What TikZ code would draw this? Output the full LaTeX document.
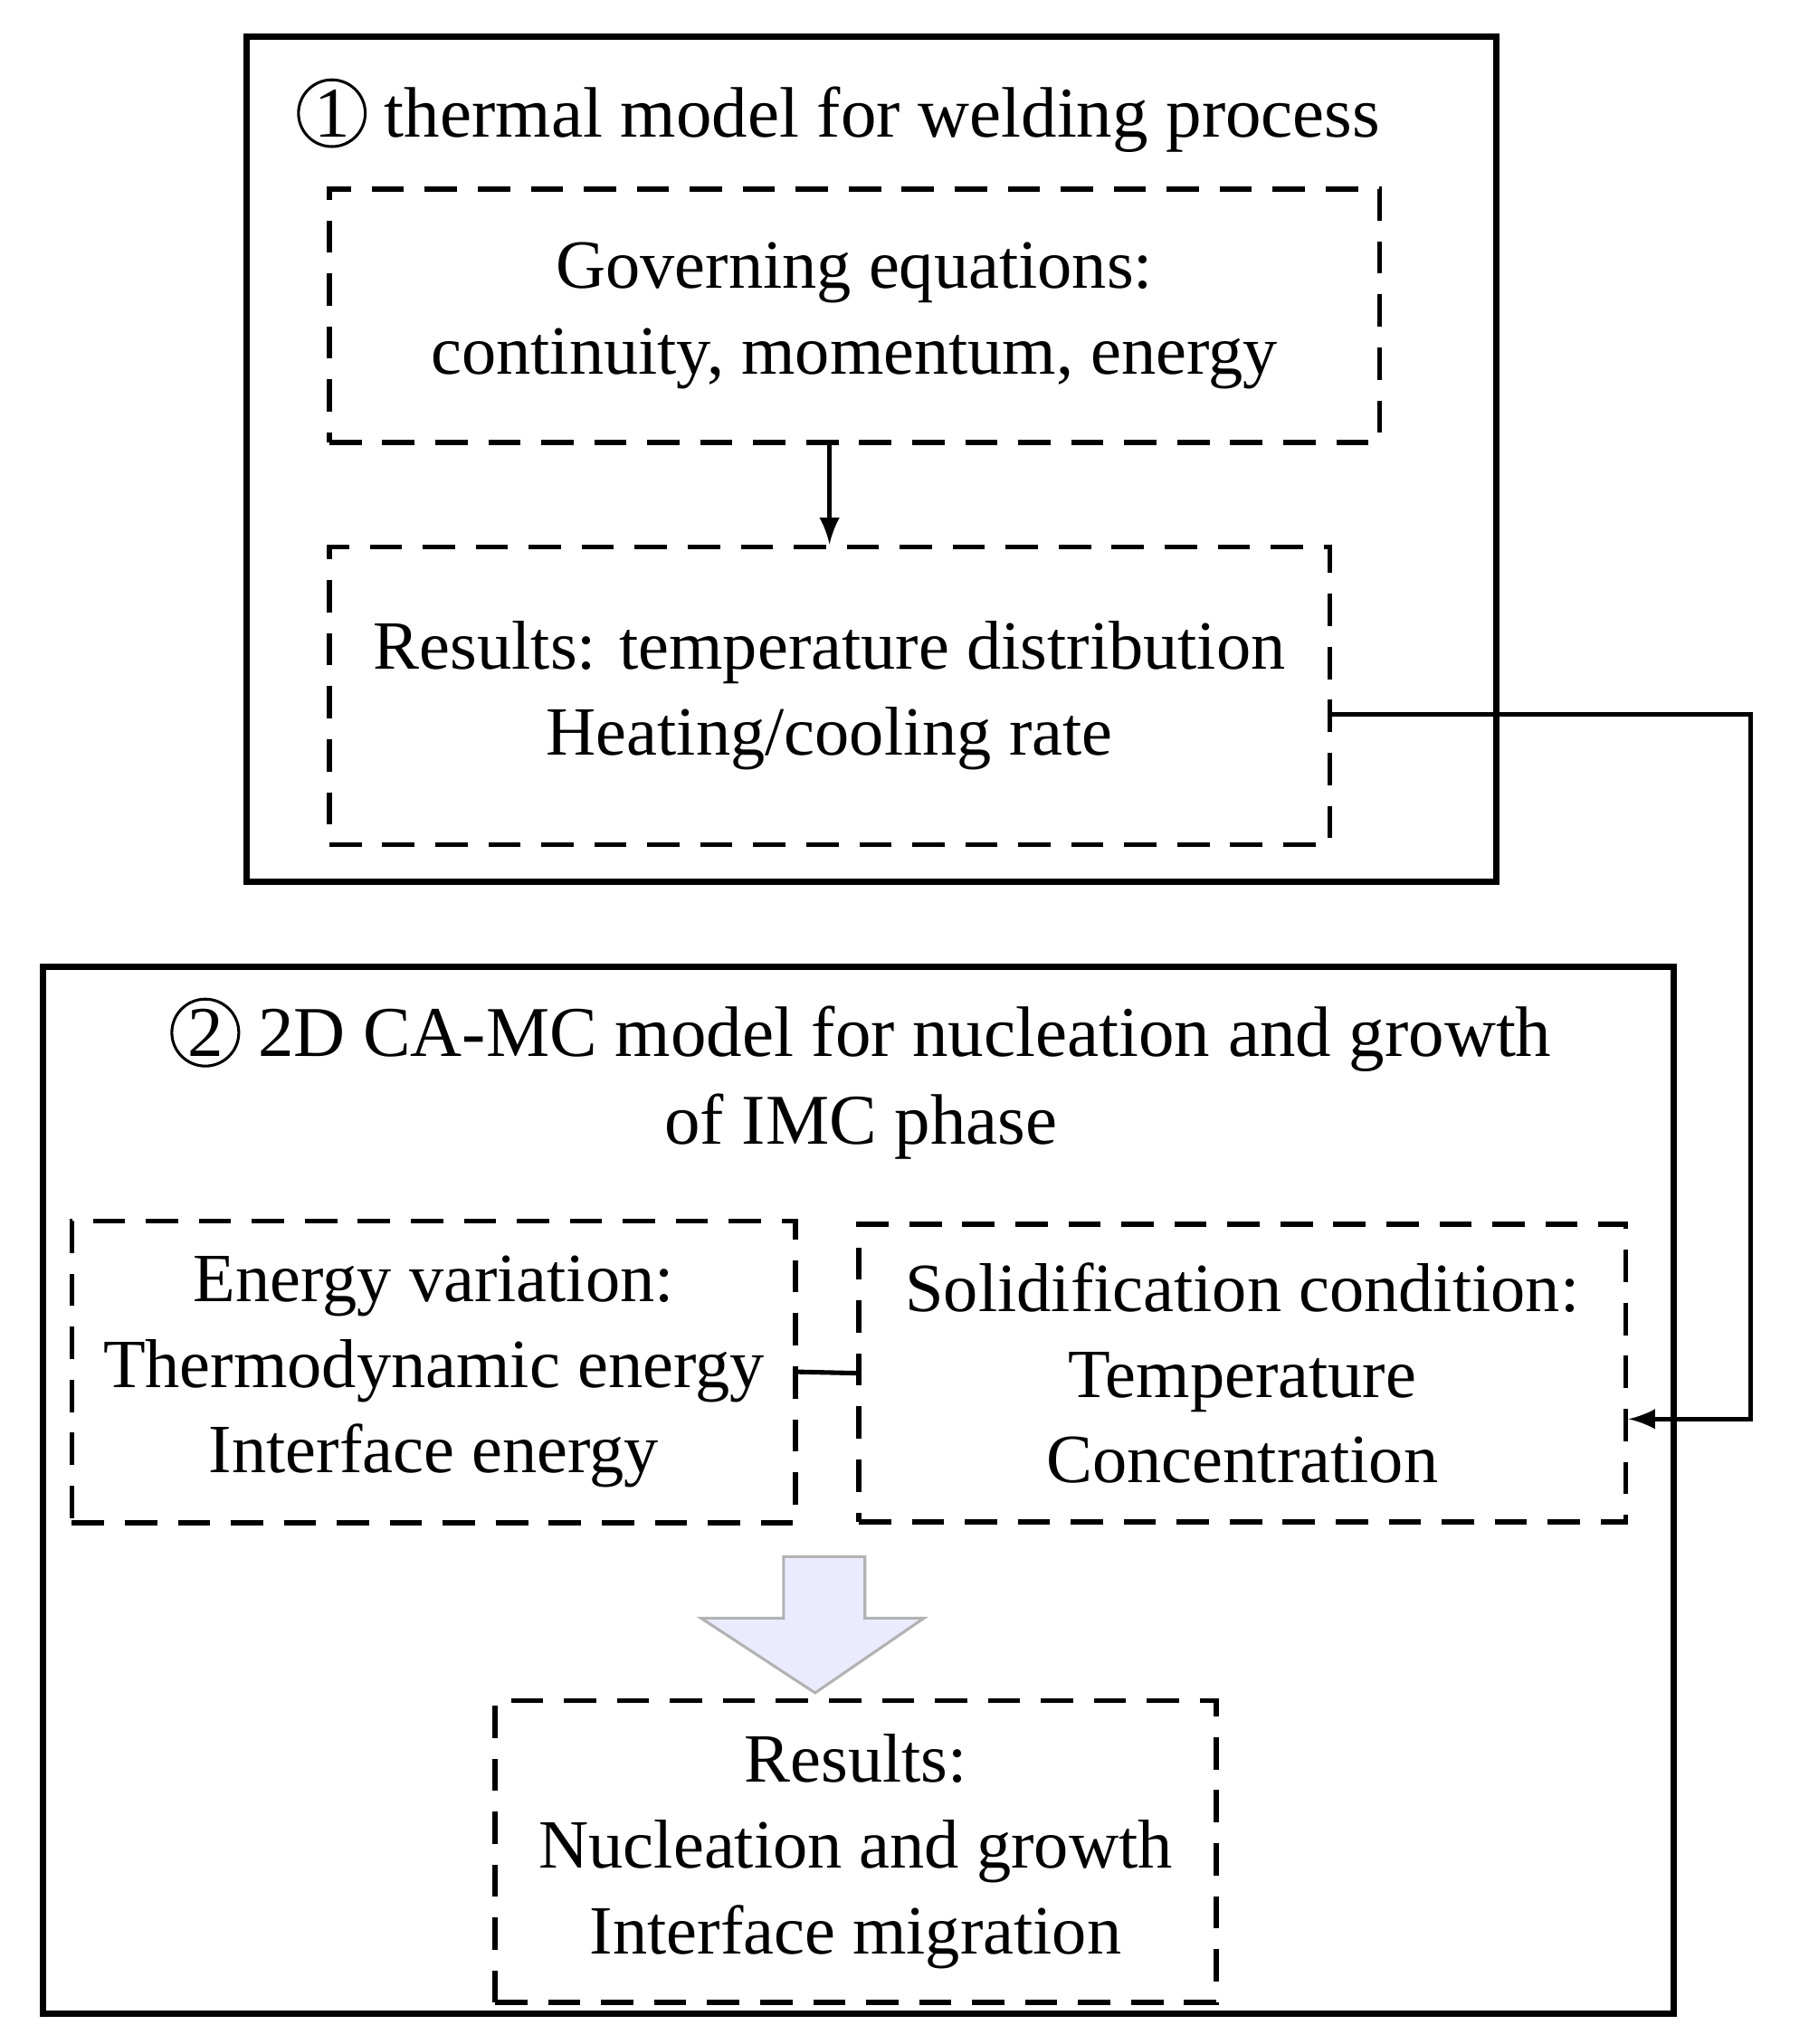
\documentclass[tikz,border=0pt]{standalone}
\usepackage{fontspec}
\setmainfont{Liberation Serif}
\usetikzlibrary{shapes,arrows,calc,positioning}
\newcommand{\circnum}[1]{\tikz[baseline=(c.base)]\node[draw,circle,inner sep=0.6pt,line width=0.6pt] (c) {#1};}

\begin{document}
\begin{tikzpicture}[x=0.01cm,y=-0.01cm]

  \tikzstyle{dbox} = [draw,dash pattern=on 7pt off 4.5pt,line width=1.1pt,align=center,font=\fontsize{15}{18.6}\selectfont]
  \tikzstyle{title} = [align=center,font=\fontsize{15.5}{19}\selectfont]

  \useasboundingbox (0,0) rectangle (1380,1560);

  % model 1
  \draw[line width=1.3pt] (188,28) rectangle (1142,673);
  \node[title] (title1) at (640,88) {\circnum{1} thermal model for welding process};
  \node[dbox,minimum width=8.01cm,minimum height=1.93cm] (gov) at (652,241) {Governing equations:\\continuity, momentum, energy};
  \node[dbox,minimum width=7.63cm,minimum height=2.27cm] (res1) at (633,531) {Results: temperature distribution\\Heating/cooling rate};
  \draw[-latex,line width=1pt] (gov.south -| res1.north) -- (res1.north);

  % model 2
  \draw[line width=1.3pt] (33,738) rectangle (1277,1537);
  \node[title] (title2) at (657,823) {\circnum{2} 2D CA-MC model for nucleation and growth\\of IMC phase};
  \node[dbox,minimum width=5.52cm,minimum height=2.3cm] (energy) at (331,1047) {Energy variation:\\Thermodynamic energy\\Interface energy};
  \node[dbox,minimum width=5.85cm,minimum height=2.27cm] (solid) at (948,1048) {Solidification condition:\\Temperature\\Concentration};
  \node[dbox,minimum width=5.5cm,minimum height=2.3cm] (res2) at (653,1413) {Results:\\Nucleation and growth\\Interface migration};
  \draw[line width=1pt] (energy.east) -- (solid.west);

  % block arrow
  \draw[fill=blue!8,draw=gray!60,line width=0.6pt] (598,1188) -- (660,1188) -- (660,1235) -- (705,1235) -- (622,1292) -- (535,1235) -- (598,1235) -- cycle;

  % feedback
  \coordinate (turn1) at (1336,545);
  \coordinate (turn2) at (1336,1083);
  \draw[-latex,line width=1pt] (res1.east |- turn1) -- (turn1) -- (turn2) -- (solid.east |- turn2);

\end{tikzpicture}
\end{document}
